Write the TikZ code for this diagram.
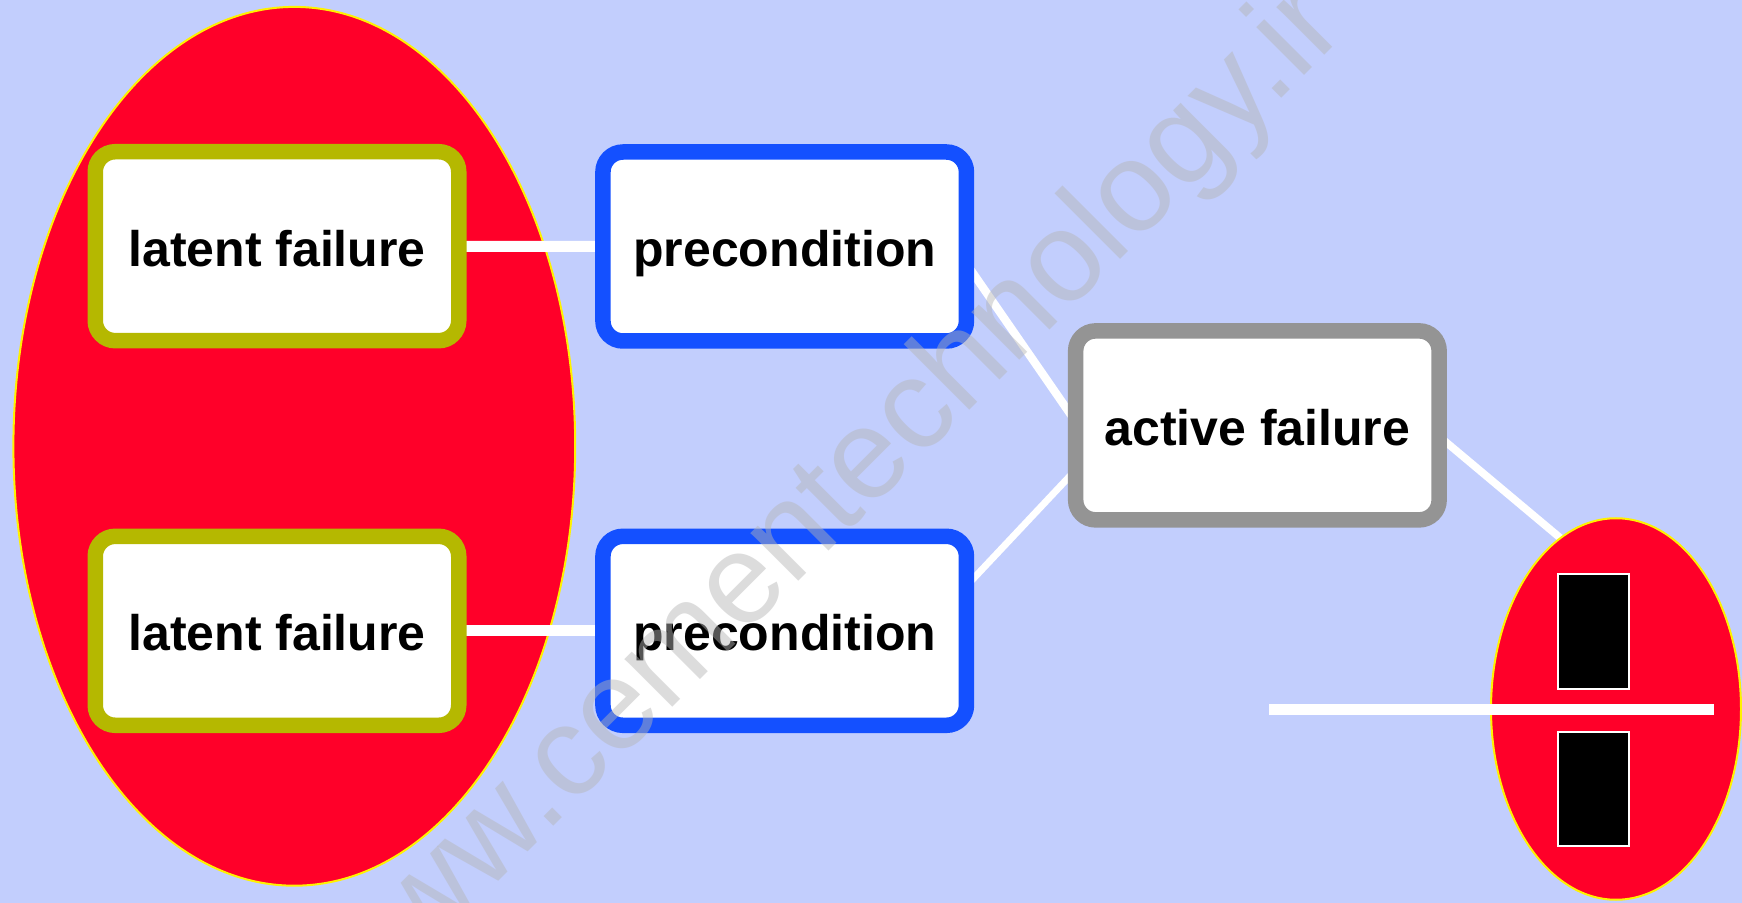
\documentclass[tikz,border=0pt]{standalone}
\usepackage{fontspec}
\setmainfont{Liberation Sans}
\usetikzlibrary{shapes.geometric}
\pgfdeclarelayer{bottom}
\pgfdeclarelayer{mid}
\pgfdeclarelayer{top}
\pgfsetlayers{bottom,mid,main,top}
\definecolor{bgblue}{HTML}{C2CEFD}
\definecolor{fillred}{HTML}{FF0029}
\definecolor{oliveb}{HTML}{B5B800}
\definecolor{blueb}{HTML}{1450FF}
\definecolor{grayb}{HTML}{949494}
\definecolor{wmgray}{HTML}{B5B5B5}
\begin{document}
\begin{tikzpicture}[x=0.5pt,y=-0.5pt,
  box/.style={rectangle, rounded corners=10pt, line width=7.75pt, fill=white,
    minimum width=181.75pt, minimum height=94.5pt, inner sep=0pt, outer sep=0pt,
    text height=20pt, text depth=0pt,
    font=\bfseries\fontsize{25}{30}\selectfont, text=black},
  redoval/.style={ellipse, draw=yellow, line width=1pt, fill=fillred, inner sep=0pt, outer sep=0pt},
  blk/.style={rectangle, draw=white, line width=1pt, fill=black, inner sep=0pt,
    minimum width=35.5pt, minimum height=57.3pt},
  conn/.style={draw=white}
]
\useasboundingbox (0,0) rectangle (1742,903);
\begin{pgfonlayer}{bottom}
  \fill[bgblue] (0,0) rectangle (1742,903);
  \node[redoval, minimum width=280.9pt, minimum height=439.4pt] (big) at (294.3,446.3) {};
\end{pgfonlayer}

\node[box, draw=oliveb] (lf1) at (277,246.2) {latent failure};
\node[box, draw=oliveb] (lf2) at (277,630.8) {latent failure};
\node[box, draw=blueb] (pc1) at (784.7,246.5) {precondition};
\node[box, draw=blueb] (pc2) at (784.7,630.8) {precondition};
\node[box, draw=grayb] (af) at (1257.4,425.4) {active failure};

\node[redoval, minimum width=125pt, minimum height=190.75pt] (se) at (1616,709) {};
\node[blk] (r1) at (1593.8,631.3) {};
\node[blk] (r2) at (1593.8,789) {};
\coordinate (hl) at (1269,710);
\coordinate (hr) at (1714,710);
\draw[conn, line width=5.5pt] (hl) -- (hr);

\begin{pgfonlayer}{mid}
  \draw[conn, line width=5.5pt] (lf1) -- (pc1);
  \draw[conn, line width=5.5pt] (lf2) -- (pc2);
  \draw[conn, line width=4.1pt] ([yshift=-8.6pt]pc1.east) -- ([yshift=1.85pt]af.west);
  \draw[conn, line width=3.4pt] ([yshift=22.4pt]pc2.east) -- ([yshift=-22.25pt]af.west);
  \draw[conn, line width=3.8pt] ([yshift=-5.5pt]af.east) -- (se.108);
\end{pgfonlayer}

\begin{pgfonlayer}{top}
  \node[rotate=45, anchor=base, inner sep=0pt, text=wmgray, text opacity=0.47,
    font=\fontsize{64}{64}\selectfont] (wm) at (852,528) {www.cementechnology.ir};
\end{pgfonlayer}
\end{tikzpicture}
\end{document}
